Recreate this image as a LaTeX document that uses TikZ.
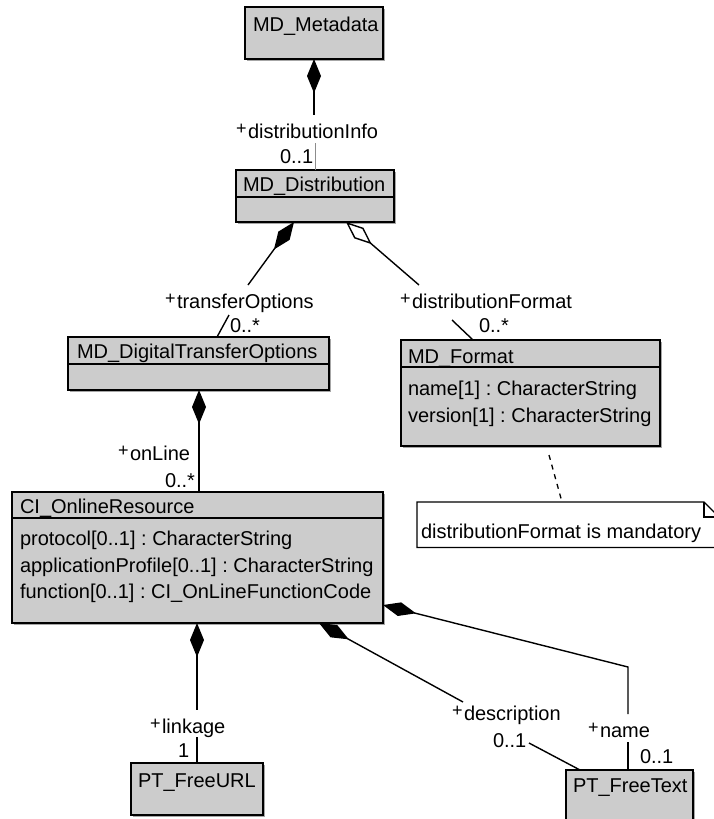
\documentclass[tikz,border=0pt]{standalone}
\usepackage{fontspec}
\setmainfont{Liberation Sans}
\usetikzlibrary{arrows.meta,shadows}
\definecolor{clsfill}{RGB}{204,204,204}
\frenchspacing
% raised visibility marker for role names
\newcommand{\umlplus}{\makebox[12pt][l]{\raisebox{4pt}{\fontsize{18}{18}\selectfont +}}}

\begin{document}
\begin{tikzpicture}[x=1pt,y=-1pt,
  font=\fontsize{20}{23}\selectfont,
  clsbox/.style={draw=black, line width=1.8pt, fill=clsfill, anchor=north west,
    inner sep=0pt, outer sep=0pt,
    drop shadow={shadow xshift=1.6pt, shadow yshift=-1.6pt, fill=black!35, opacity=1}},
  txt/.style={anchor=base west, inner sep=0pt, outer sep=0pt},
  divider/.style={line width=1.5pt},
  assoc/.style={line width=1.4pt},
  comp/.style={assoc, {Diamond[length=34pt,width=14pt]}-},
  aggr/.style={assoc, {Diamond[open,length=34pt,width=14pt]}-},
  notebox/.style={draw=black, line width=1.3pt, fill=white},
]
\clip (0,0) rectangle (714,819);

% ---- classes ----
\node[clsbox, minimum width=138pt, minimum height=52pt] (meta) at (245,7) {};
\node[txt] (meta-name) at (253,31) {MD\_Metadata};

\node[clsbox, minimum width=158pt, minimum height=52pt] (dist) at (236,170) {};
\draw[divider] ([yshift=-27pt]dist.north west) -- ([yshift=-27pt]dist.north east);
\node[txt] (dist-name) at (243,191) {MD\_Distribution};

\node[clsbox, minimum width=261pt, minimum height=53pt] (dto) at (68,337) {};
\draw[divider] ([yshift=-27pt]dto.north west) -- ([yshift=-27pt]dto.north east);
\node[txt] (dto-name) at (77,358) {MD\_DigitalTransferOptions};

\node[clsbox, minimum width=259pt, minimum height=106pt] (fmt) at (401,340) {};
\draw[divider] ([yshift=-27pt]fmt.north west) -- ([yshift=-27pt]fmt.north east);
\node[txt] (fmt-name) at (408,363) {MD\_Format};
\node[txt] (fmt-a1) at (408,395) {name[1] : CharacterString};
\node[txt] (fmt-a2) at (408,422) {version[1] : CharacterString};

\node[clsbox, minimum width=371pt, minimum height=131pt] (cior) at (12,492) {};
\draw[divider] ([yshift=-26pt]cior.north west) -- ([yshift=-26pt]cior.north east);
\node[txt] (cior-name) at (20,513) {CI\_OnlineResource};
\node[txt] (cior-a1) at (20,545) {protocol[0..1] : CharacterString};
\node[txt] (cior-a2) at (20,572) {applicationProfile[0..1] : CharacterString};
\node[txt] (cior-a3) at (20,598) {function[0..1] : CI\_OnLineFunctionCode};

\node[clsbox, minimum width=132pt, minimum height=52pt] (url) at (131,763) {};
\node[txt] (url-name) at (138,787) {PT\_FreeURL};

\node[clsbox, minimum width=127pt, minimum height=60pt] (ftext) at (566,770) {};
\node[txt] (ftext-name) at (573,792) {PT\_FreeText};

% ---- note ----
\node[anchor=north west, minimum width=302pt, minimum height=45pt, inner sep=0pt] (note) at (417,502) {};
\draw[notebox] (note.north west) -- (704,502) -- (719,517) -- (note.south east) -- (note.south west) -- cycle;
\draw[line width=1.3pt] (704,502) -- (704,517) -- (719,517);
\node[txt] (note-text) at (421,538) {distributionFormat is mandatory};
\draw[line width=1.3pt, dash pattern=on 5pt off 5pt] (549,455) -- (note.north -| 562,0);

% ---- associations ----
\coordinate (m1) at (314,115);
\draw[comp] (meta.south) -- (m1);
\draw[line width=0.8pt, black!45] (dist.north) -- ++(0,-27);
\node[txt] (r-distinfo) at (236,138) {\umlplus distributionInfo};
\node[txt] (m-distinfo) at (280,163) {0..1};

\coordinate (t1) at (248,285);
\coordinate (t2) at (229,315);
\draw[comp] (dist.south -| 294,0) -- (t1);
\draw[assoc] (t2) -- (dto.north -| 217,0);
\node[txt] (r-transfer) at (165,308) {\umlplus transferOptions};
\node[txt] (m-transfer) at (230,332) {0..*};

\coordinate (f1) at (419,285);
\coordinate (f2) at (452,320);
\draw[aggr] (dist.south -| 346,0) -- (f1);
\draw[assoc] (f2) -- (fmt.north -| 473,0);
\node[txt] (r-format) at (400,308) {\umlplus distributionFormat};
\node[txt] (m-format) at (479,332) {0..*};

\draw[comp] (dto.south -| 199,0) -- (cior.north -| 199,0);
\node[txt] (r-online) at (118,460) {\umlplus onLine};
\node[txt] (m-online) at (165,487) {0..*};

\coordinate (k1) at (197,710);
\coordinate (k2) at (197,737);
\draw[comp] (cior.south -| 197,0) -- (k1);
\draw[assoc] (k2) -- (url.north -| 197,0);
\node[txt] (r-linkage) at (150,733) {\umlplus linkage};
\node[txt] (m-linkage) at (178,757) {1};

\coordinate (d1) at (463,702);
\coordinate (d2) at (529,743);
\draw[comp] (cior.south -| 319,0) -- (d1);
\draw[assoc] (d2) -- (ftext.north -| 580,0);
\node[txt] (r-descr) at (452,720) {\umlplus description};
\node[txt] (m-descr) at (493,747) {0..1};

\coordinate (n1) at (628,667);
\coordinate (n2) at (628,714);
\coordinate (n3) at (628,742);
\draw[comp] (cior.east |- 0,605) -- (n1) -- (n2);
\draw[assoc] (n3) -- (ftext.north -| 628,0);
\node[txt] (r-name) at (588,737) {\umlplus name};
\node[txt] (m-name) at (640,763) {0..1};
\end{tikzpicture}
\end{document}
